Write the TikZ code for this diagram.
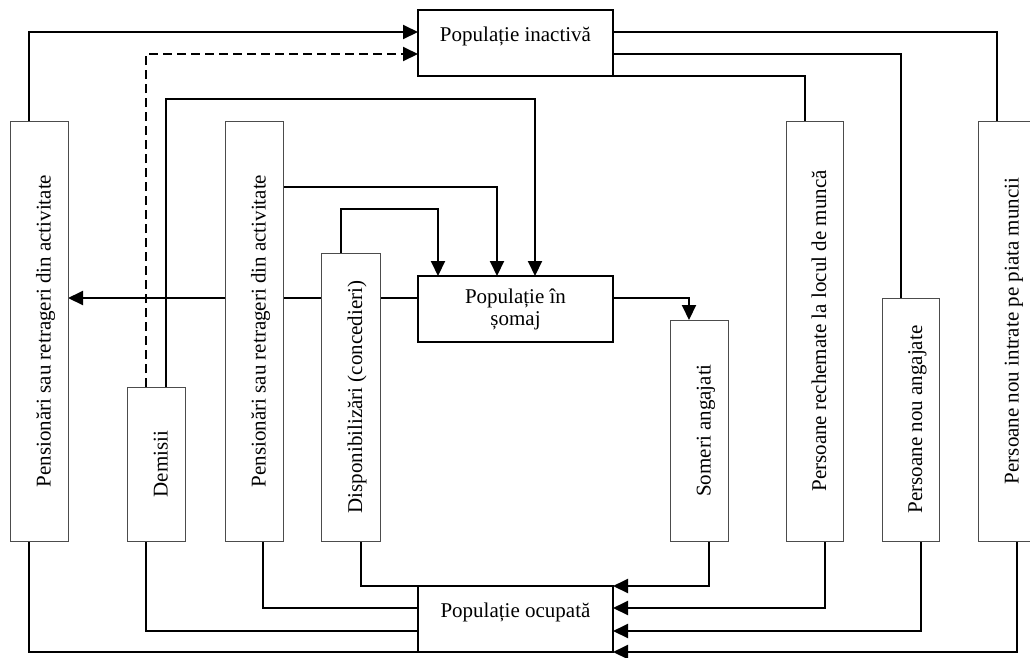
\documentclass[tikz,border=0pt]{standalone}
\usepackage{fontspec}
\setmainfont{Liberation Serif}
\usetikzlibrary{arrows.meta,backgrounds}
\begin{document}
\begin{tikzpicture}[x=1pt,y=-1pt,
  font=\fontsize{21}{22}\selectfont,
  hbox/.style={draw=black,line width=2pt,fill=white,minimum width=195pt,minimum height=66pt,inner sep=0pt,outer sep=0pt,text height=14pt,text depth=18pt},
  vbox/.style={draw=black!70,line width=1pt,fill=white,rotate=90,minimum height=58pt,inner sep=0pt,outer sep=0pt,text height=23pt,text depth=0pt},
  conn/.style={line width=2pt},
  arr/.style={conn,-{Triangle[length=15pt,width=14pt]}},
  dashconn/.style={conn,dash pattern=on 9pt off 5pt,-{Triangle[length=15pt,width=14pt]}},
]
\useasboundingbox (0,0) rectangle (1030,657);
% horizontal boxes
\node[hbox] (inact) at (515.5,43) {Populație inactivă};
\node[draw=black,line width=2pt,fill=white,minimum width=195pt,minimum height=66pt,inner sep=0pt,outer sep=0pt,align=center] (somaj) at (515.5,309) {Populație în\\șomaj};
\node[hbox,text depth=17pt] (ocup) at (515.5,619) {Populație ocupată};
% vertical boxes
\node[vbox,minimum width=420pt] (b1) at (39,331) {Pensionări sau retrageri din activitate};
\node[vbox,minimum width=154pt] (dem) at (156,464) {Demisii};
\node[vbox,minimum width=420pt] (b3) at (254,331) {Pensionări sau retrageri din activitate};
\node[vbox,minimum width=288pt,minimum height=59pt] (disp) at (350.5,397) {Disponibilizări (concedieri)};
\node[vbox,minimum width=221pt] (someri) at (699,430.5) {Someri angajati};
\node[vbox,minimum width=420pt,minimum height=57pt] (rech) at (814.5,331) {Persoane rechemate la locul de muncă};
\node[vbox,minimum width=243pt,minimum height=57pt] (nouang) at (910.5,419.5) {Persoane nou angajate};
\node[vbox,minimum width=420pt] (intr) at (1007,331) {Persoane nou intrate pe piata muncii};
\coordinate (ml) at ([yshift=11pt]somaj.west);
\coordinate (mr) at ([yshift=11pt]somaj.east);
\begin{scope}[on background layer]
% to inactive population
\draw[arr] ([xshift=-10pt]b1.east) |- ([yshift=11pt]inact.west);
\draw[dashconn] ([xshift=-10pt]dem.east) |- ([yshift=-11pt]inact.west);
% from inactive population
\draw[conn] ([yshift=11pt]inact.east) -| ([xshift=-10pt]intr.east);
\draw[conn] ([yshift=-11pt]inact.east) -| ([xshift=-10pt]nouang.east);
\draw[conn] (inact.south east) -| ([xshift=-10pt]rech.east);
% to unemployed
\draw[arr] ([xshift=10pt]dem.east) -- ++(0,-288) -| ([xshift=19.5pt]somaj.north);
\draw[arr] ([yshift=144pt]b3.south) -| ([xshift=-18.5pt]somaj.north);
\draw[arr] ([xshift=-9.5pt]disp.east) -- ++(0,-44) -| ([xshift=-77.5pt]somaj.north);
% from unemployed
\draw[arr] (ml) -- (ml -| b1.south);
\draw[arr] (mr) -| ([xshift=-10pt]someri.east);
% to/from employed
\draw[conn] ([xshift=-10pt]b1.west) |- (ocup.south west);
\draw[conn] ([xshift=-10pt]dem.west) |- ([yshift=-12pt]ocup.west);
\draw[conn] ([xshift=9pt]b3.west) |- ([yshift=11pt]ocup.west);
\draw[conn] ([xshift=10pt]disp.west) |- (ocup.north west);
\draw[arr] ([xshift=10pt]someri.west) |- (ocup.north east);
\draw[arr] ([xshift=10pt]rech.west) |- ([yshift=11pt]ocup.east);
\draw[arr] ([xshift=10pt]nouang.west) |- ([yshift=-12pt]ocup.east);
\draw[arr] ([xshift=10pt]intr.west) |- (ocup.south east);
\end{scope}
\end{tikzpicture}
\end{document}
